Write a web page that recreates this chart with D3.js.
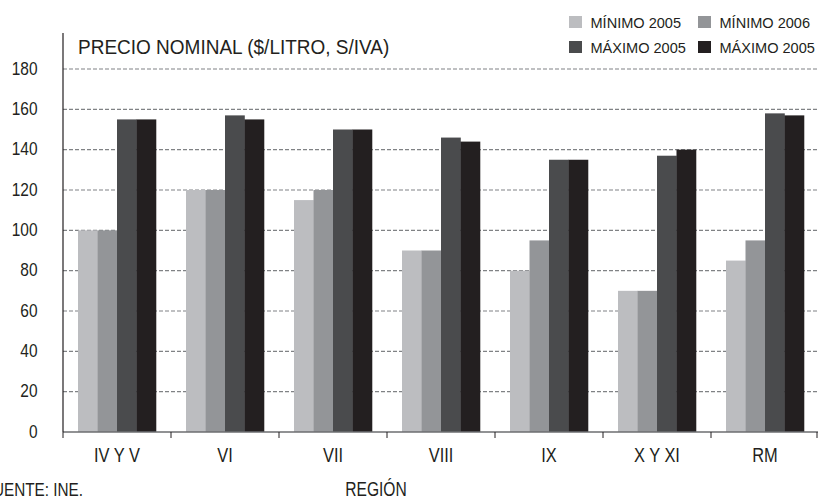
<!DOCTYPE html>
<html>
<head>
<meta charset="utf-8">
<script src="https://cdn.jsdelivr.net/npm/d3@7"></script>
<style>
  body { margin: 0; background: #fff; }
  svg text { font-family: "Liberation Sans", Arial, sans-serif; fill: #231f20; }
</style>
</head>
<body>
<svg id="chart" width="818" height="499"></svg>
<script>
// regiones y series
var regions = ["IV Y V", "VI", "VII", "VIII", "IX", "X Y XI", "RM"];
var seriesNames = ["MÍNIMO 2005", "MÍNIMO 2006", "MÁXIMO 2005", "MÁXIMO 2005"];
var min2005 = [100, 120, 115, 90, 80, 70, 85];
var min2006 = [100, 120, 120, 90, 95, 70, 95];
var max2005 = [155, 157, 150, 146, 135, 137, 158];
var max2006 = [155, 155, 150, 144, 135, 140, 157];
var yTicks = [0, 20, 40, 60, 80, 100, 120, 140, 160, 180];
var colors = ["#bcbdc0", "#939598", "#4a4b4d", "#231f20"];

var svg = d3.select("#chart");
var mLeft = 63, mRight = 819, mTop = 69, mBottom = 432;

var x = d3.scaleBand().domain(regions).range([mLeft, mRight]).padding(0);
var xs = d3.scaleBand().domain(d3.range(4)).range([0, x.bandwidth()])
    .paddingInner(0).paddingOuter(0.77);
var y = d3.scaleLinear().domain([0, 180]).range([mBottom, mTop]);

var table = regions.map(function (r, i) {
    return { region: r, values: [min2005[i], min2006[i], max2005[i], max2006[i]] };
});

// texto condensado (sx = estrechamiento horizontal)
function ctext(parent, tx, ty, txt, size, sx, anchor) {
    return parent.append("text")
        .attr("transform", "translate(" + tx + "," + ty + ") scale(" + sx + ",1)")
        .attr("font-size", size + "px")
        .attr("text-anchor", anchor || "start")
        .text(txt);
}

// grid lineas punteadas
svg.append("g").selectAll("line")
    .data(yTicks.filter(function (d) { return d > 0; }))
    .enter().append("line")
    .attr("x1", mLeft).attr("x2", 818)
    .attr("y1", function (d) { return y(d); })
    .attr("y2", function (d) { return y(d); })
    .style("stroke", "#808285")
    .style("stroke-width", 1.2)
    .style("stroke-dasharray", "4,2");

// barras
var groups = svg.append("g").selectAll("g")
    .data(table).enter().append("g")
    .attr("transform", function (d) { return "translate(" + x(d.region) + ",0)"; });
groups.selectAll("rect")
    .data(function (d) { return d.values; })
    .enter().append("rect")
    .attr("x", function (d, i) { return xs(i); })
    .attr("width", xs.bandwidth() + 0.3)
    .attr("y", function (d) { return y(d); })
    .attr("height", function (d) { return mBottom - y(d); })
    .style("fill", function (d, i) { return colors[i]; });

// eje x
svg.append("line")
    .attr("x1", mLeft).attr("x2", 818).attr("y1", mBottom).attr("y2", mBottom)
    .style("stroke", "#6d6e71").style("stroke-width", 1.5);
var tickPos = regions.map(function (r) { return x(r); }).concat([x.range()[1] - 2]);
svg.append("g").selectAll("line").data(tickPos).enter().append("line")
    .attr("x1", function (d) { return d; }).attr("x2", function (d) { return d; })
    .attr("y1", mBottom).attr("y2", mBottom + 6)
    .style("stroke", "#231f20").style("stroke-width", 1);
var xl = svg.append("g");
regions.forEach(function (r) {
    ctext(xl, x(r) + x.bandwidth() / 2, 462, r, 20.5, 0.8, "middle");
});

// eje y
svg.append("line")
    .attr("x1", mLeft).attr("x2", mLeft).attr("y1", 33).attr("y2", mBottom)
    .style("stroke", "#231f20").style("stroke-width", 1.2);
var yl = svg.append("g");
yTicks.forEach(function (t) {
    ctext(yl, 37.5, y(t) + 5.8, t, 18, 0.86, "end");
});

// titulos
ctext(svg, 78, 53.5, "PRECIO NOMINAL ($/LITRO, S/IVA)", 21, 0.905);
ctext(svg, 376, 496, "REGIÓN", 19.5, 0.8, "middle");
ctext(svg, 83, 496, "FUENTE: INE.", 18, 0.85, "end");

// leyenda
var legPos = [[569, 16], [698, 16], [569, 41], [698, 41]];
var leg = svg.append("g").selectAll("g").data(seriesNames).enter().append("g")
    .attr("transform", function (d, i) { return "translate(" + legPos[i][0] + "," + legPos[i][1] + ")"; });
leg.append("rect").attr("width", 13).attr("height", 12)
    .style("fill", function (d, i) { return colors[i]; });
leg.each(function (d) {
    ctext(d3.select(this), 21.5, 11.8, d, 14, 1.04);
});
</script>
</body>
</html>
